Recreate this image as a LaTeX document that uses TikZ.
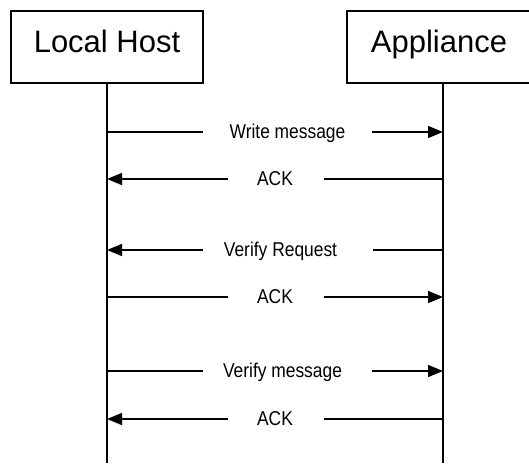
\documentclass[tikz,border=0pt]{standalone}
\usepackage{fontspec}
\setmainfont{Liberation Sans}
\newfontfamily\msgfont[FakeStretch=0.87]{Liberation Sans}
\usetikzlibrary{arrows.meta}
\begin{document}
\begin{tikzpicture}[x=1pt,y=-1pt,
  party/.style={draw, line width=1.3pt, minimum height=72pt, inner sep=0pt,
    text height=21pt, text depth=11pt, font=\fontsize{31}{31}\selectfont},
  life/.style={line width=1.6pt},
  msg/.style={line width=1.4pt},
  tip/.style={-{Triangle[length=15pt,width=12pt]}},
  lbl/.style={anchor=base, inner sep=0pt, font=\msgfont\fontsize{20}{20}\selectfont}]
\useasboundingbox (0,0) rectangle (529,463);

% participants
\node[party, minimum width=192pt] (host) at (107,47) {Local Host};
\node[party, minimum width=184pt] (app) at (439,47) {Appliance};

% lifelines
\coordinate (hostEnd) at (107,463);
\coordinate (appEnd) at (443,463);
\draw[life] (host.south) -- (hostEnd);
\draw[life] (app.south -| appEnd) -- (appEnd);

% message 1: Write message (host -> appliance)
\coordinate (m1h) at (107,132); \coordinate (m1l) at (203,132);
\coordinate (m1r) at (372,132); \coordinate (m1a) at (443,132);
\node[lbl] (m1) at (287.5,138.5) {Write message};
\draw[msg] (m1h) -- (m1l);
\draw[msg,tip] (m1r) -- (m1a);

% message 2: ACK (appliance -> host)
\coordinate (m2h) at (107,179); \coordinate (m2l) at (228,179);
\coordinate (m2r) at (324,179); \coordinate (m2a) at (443,179);
\node[lbl] (m2) at (275,185.5) {ACK};
\draw[msg,tip] (m2l) -- (m2h);
\draw[msg] (m2a) -- (m2r);

% message 3: Verify Request (appliance -> host)
\coordinate (m3h) at (107,250); \coordinate (m3l) at (203,250);
\coordinate (m3r) at (373,250); \coordinate (m3a) at (443,250);
\node[lbl] (m3) at (280.5,256.5) {Verify Request};
\draw[msg,tip] (m3l) -- (m3h);
\draw[msg] (m3a) -- (m3r);

% message 4: ACK (host -> appliance)
\coordinate (m4h) at (107,297); \coordinate (m4l) at (228,297);
\coordinate (m4r) at (324,297); \coordinate (m4a) at (443,297);
\node[lbl] (m4) at (275,303.5) {ACK};
\draw[msg] (m4h) -- (m4l);
\draw[msg,tip] (m4r) -- (m4a);

% message 5: Verify message (host -> appliance)
\coordinate (m5h) at (107,371); \coordinate (m5l) at (203,371);
\coordinate (m5r) at (372,371); \coordinate (m5a) at (443,371);
\node[lbl] (m5) at (282.5,377.5) {Verify message};
\draw[msg] (m5h) -- (m5l);
\draw[msg,tip] (m5r) -- (m5a);

% message 6: ACK (appliance -> host)
\coordinate (m6h) at (107,419); \coordinate (m6l) at (228,419);
\coordinate (m6r) at (324,419); \coordinate (m6a) at (443,419);
\node[lbl] (m6) at (275,425.5) {ACK};
\draw[msg,tip] (m6l) -- (m6h);
\draw[msg] (m6a) -- (m6r);
\end{tikzpicture}
\end{document}
